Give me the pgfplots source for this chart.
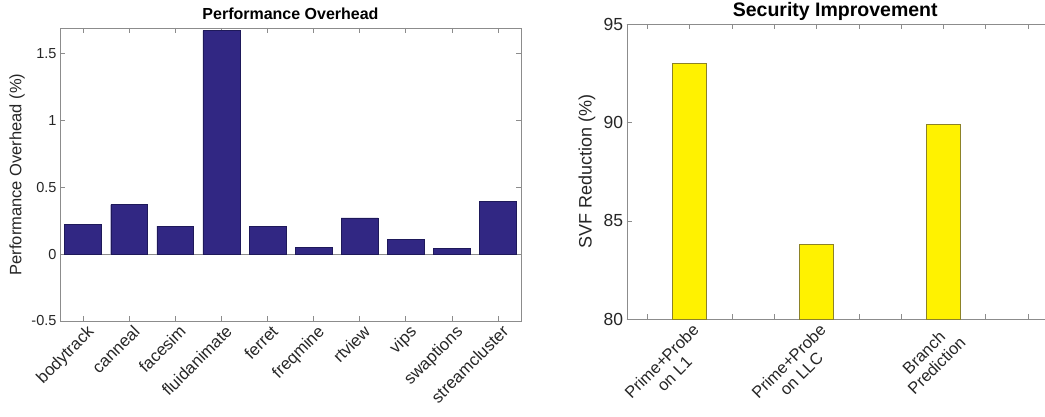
\documentclass[border=0pt]{standalone}
\usepackage{fontspec}
\setmainfont{Liberation Sans}
\usepackage{pgfplots}
\pgfplotsset{compat=1.18}
\definecolor{barblue}{RGB}{49,39,131}
\definecolor{baredge}{RGB}{30,25,90}
\definecolor{yedge}{RGB}{140,130,40}
\definecolor{axgray}{RGB}{140,140,140}
\definecolor{txt}{RGB}{38,38,38}
\pgfplotsset{every axis title shift=0pt}
\begin{document}
\begin{tikzpicture}
\useasboundingbox (0,0) rectangle (1045bp,417bp);
\begin{axis}[
  at={(60bp,96bp)}, anchor=south west,
  scale only axis, width=461bp, height=293bp,
  ybar, bar width=0.8,
  xmin=0.5, xmax=10.5, ymin=-0.5, ymax=1.69,
  xtick={1,...,10},
  xticklabels={bodytrack,canneal,facesim,fluidanimate,ferret,freqmine,rtview,vips,swaptions,streamcluster},
  ytick={-0.5,0,0.5,1,1.5},
  yticklabels={-0.5,0,0.5,1,1.5},
  tick align=inside, major tick length=5bp,
  axis line style={axgray}, tick style={axgray, line width=0.6bp},
  yticklabel style={font=\fontsize{14.5bp}{16bp}\selectfont, text=txt},
  xticklabel style={font=\fontsize{16.8bp}{18bp}\selectfont, text=txt, xshift=3bp, yshift=-3bp, rotate=45, anchor=north east, inner sep=0pt},
  ylabel={Performance Overhead (\%)},
  ylabel style={at={(axis description cs:-0.0933,0.5)}, anchor=center, font=\fontsize{16.5bp}{18bp}\selectfont, text=txt},
  title={Performance Overhead},
  title style={at={(axis description cs:0.5,1)}, anchor=base, yshift=8bp, font=\bfseries\fontsize{16bp}{18bp}\selectfont},
  extra y ticks={0}, extra y tick labels={}, extra y tick style={grid=major, major grid style={axgray}},
]
\addplot[fill=barblue, draw=baredge] coordinates {(1,0.22) (2,0.37) (3,0.21) (4,1.67) (5,0.21) (6,0.05) (7,0.27) (8,0.11) (9,0.045) (10,0.395)};
\end{axis}
\begin{axis}[
  at={(626.7bp,97.7bp)}, anchor=south west,
  scale only axis, width=420bp, height=295bp,
  axis x line*=box, axis y line*=left,
  ybar, bar width=0.8,
  xmin=-0.484, xmax=9.44, ymin=80, ymax=95,
  xtick={0,...,9},
  xticklabels={,{Prime+Probe\\on L1},,,{Prime+Probe\\on LLC},,,{Branch\\Prediction},,},
  ytick={80,85,90,95},
  yticklabels={80,85,90,95},
  tick align=inside, major tick length=5bp,
  axis line style={axgray}, tick style={axgray, line width=0.6bp},
  yticklabel style={font=\fontsize{17.5bp}{19bp}\selectfont, text=txt},
  xticklabel style={font=\fontsize{16.5bp}{18bp}\selectfont, text=txt, xshift=2bp, yshift=-3bp, rotate=45, anchor=north east, inner sep=0pt, align=center},
  ylabel={SVF Reduction (\%)},
  ylabel style={at={(axis description cs:-0.0945,0.5)}, anchor=center, font=\fontsize{18bp}{20bp}\selectfont, text=txt},
  title={Security Improvement},
  title style={at={(axis description cs:0.4965,1)}, anchor=base, yshift=7.5bp, font=\bfseries\fontsize{19.5bp}{21bp}\selectfont},
]
\addplot[fill=yellow, draw=yedge] coordinates {(1,93.0) (4,83.8) (7,89.9)};
\end{axis}
\end{tikzpicture}
\end{document}
